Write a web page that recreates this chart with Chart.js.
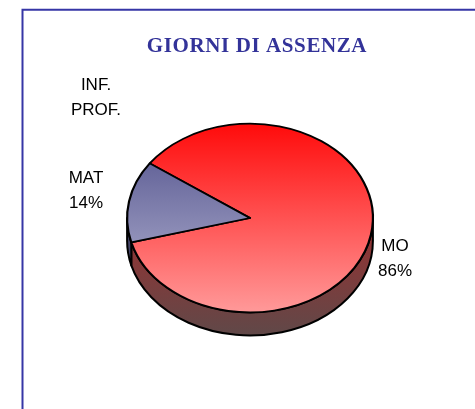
<!DOCTYPE html>
<html>
<head>
<meta charset="utf-8">
<script src="https://cdn.jsdelivr.net/npm/chart.js@4.4.0/dist/chart.umd.min.js"></script>
<style>
  html, body { margin: 0; padding: 0; background: #fff; overflow: hidden; }
  #pie { display: block; }
</style>
</head>
<body>
<canvas id="pie" width="475" height="409"></canvas>
<script>
const chartTitle = 'GIORNI DI ASSENZA';
const labels = ['MO', 'MAT', 'INF. PROF.'];
const values = [86, 14, 0];

// top face gradient (top -> bottom) and side colours per slice
const topColors = [['#ff0a0a', '#ff9a9a'], ['#4e4e8a', '#babad6'], ['#4e4e8a', '#babad6']];
const sideColors = [['#9a3030', '#604848'], ['#4a4a70', '#3a3a58'], ['#4a4a70', '#3a3a58']];
// where the Excel-style data labels sit (centre of text, first baseline)
const labelPos = [{x: 395, y: 251}, {x: 86, y: 183}, {x: 96, y: 90}];

const tilt = 0.768;   // vertical squash of the pie
const depth = 23;     // height of the pie side in px
const total = values.reduce((a, b) => a + b, 0);

function labelLines(i) {
  const lines = labels[i].split(' ');
  if (values[i] > 0) {
    return [labels[i], Math.round(values[i] / total * 100) + '%'];
  }
  return lines;
}

const pie3d = {
  id: 'pie3d',
  beforeDatasetsDraw(chart) {
    const ctx = chart.ctx;
    const arcs = chart.getDatasetMeta(0).data;
    const {x, y, outerRadius: r} = arcs[0];
    const ry = r * tilt;
    // side of the pie, only the front half (0..PI) is visible
    arcs.forEach((arc, i) => {
      if (arc.circumference <= 0) return;
      for (let k = -1; k <= 1; k++) {
        const a0 = Math.max(arc.startAngle, 2 * Math.PI * k);
        const a1 = Math.min(arc.endAngle, Math.PI + 2 * Math.PI * k);
        if (a1 <= a0) continue;
        const g = ctx.createLinearGradient(0, y, 0, y + ry + depth);
        g.addColorStop(0, sideColors[i][0]);
        g.addColorStop(1, sideColors[i][1]);
        ctx.save();
        ctx.beginPath();
        ctx.ellipse(x, y, r, ry, 0, a0, a1, false);
        ctx.ellipse(x, y + depth, r, ry, 0, a1, a0, true);
        ctx.closePath();
        ctx.fillStyle = g;
        ctx.fill();
        ctx.lineWidth = 2;
        ctx.strokeStyle = '#000';
        ctx.lineJoin = 'round';
        ctx.stroke();
        ctx.restore();
      }
    });
    // squash the top face
    ctx.save();
    ctx.translate(0, y);
    ctx.scale(1, tilt);
    ctx.translate(0, -y);
  },
  afterDatasetsDraw(chart) {
    chart.ctx.restore();
  },
  afterDraw(chart) {
    const ctx = chart.ctx;
    ctx.save();
    // frame
    ctx.strokeStyle = '#3636a6';
    ctx.lineWidth = 2;
    ctx.beginPath();
    ctx.moveTo(22.5, 420);
    ctx.lineTo(22.5, 9.8);
    ctx.lineTo(480, 9.8);
    ctx.stroke();
    // title
    ctx.fillStyle = '#333399';
    ctx.font = 'bold 21px "Liberation Serif", "Times New Roman", serif';
    ctx.textAlign = 'center';
    ctx.textBaseline = 'alphabetic';
    ctx.letterSpacing = '0.6px';
    ctx.fillText(chartTitle, 257, 52);
    ctx.letterSpacing = '0px';
    // data labels
    ctx.fillStyle = '#000';
    ctx.font = '17px "Liberation Sans", Arial, sans-serif';
    labels.forEach((_, i) => {
      labelLines(i).forEach((line, j) => {
        ctx.fillText(line, labelPos[i].x, labelPos[i].y + j * 25);
      });
    });
    ctx.restore();
  },
};

new Chart(document.getElementById('pie'), {
  type: 'pie',
  data: {
    labels: labels,
    datasets: [{
      data: values,
      clip: false,
      borderColor: '#000',
      borderWidth: 2.2,
      borderJoinStyle: 'round',
      backgroundColor: (c) => {
        const area = c.chart.chartArea;
        if (!area) return topColors[c.dataIndex][0];
        const g = c.chart.ctx.createLinearGradient(0, area.top, 0, area.bottom);
        g.addColorStop(0, topColors[c.dataIndex][0]);
        g.addColorStop(1, topColors[c.dataIndex][1]);
        return g;
      },
    }],
  },
  options: {
    responsive: false,
    animation: false,
    devicePixelRatio: 1,
    rotation: -54.6,
    layout: {
      padding: {left: 126, right: 101, top: 94, bottom: 67},
    },
    plugins: {
      legend: {display: false},
      tooltip: {enabled: false},
    },
  },
  plugins: [pie3d],
});
</script>
</body>
</html>
